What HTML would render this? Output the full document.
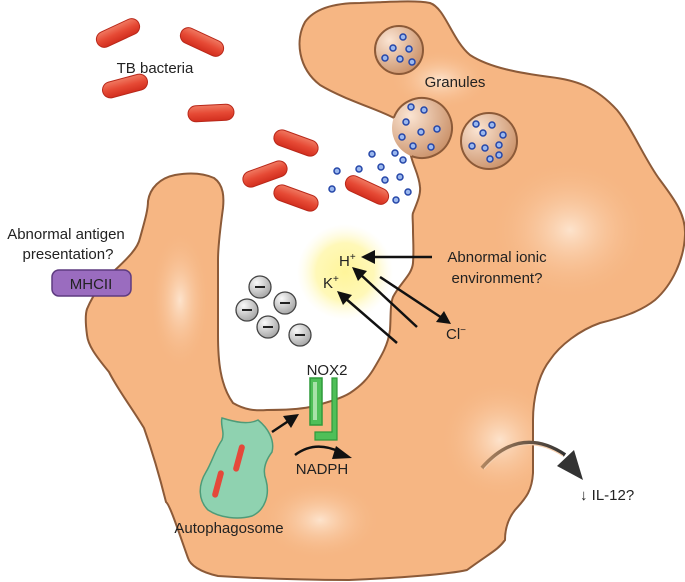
<!DOCTYPE html>
<html><head><meta charset="utf-8"><style>
body{margin:0;background:#fff;}
svg{display:block;font-family:"Liberation Sans",Arial,sans-serif;}
</style></head><body>
<svg width="685" height="582" viewBox="0 0 685 582" xmlns="http://www.w3.org/2000/svg">
<defs>
<radialGradient id="hl" cx="0.5" cy="0.5" r="0.5"><stop offset="0" stop-color="#fde3cc"/><stop offset="1" stop-color="#f6b683" stop-opacity="0"/></radialGradient>
<radialGradient id="glow" cx="0.5" cy="0.5" r="0.5"><stop offset="0" stop-color="#fff59a"/><stop offset="0.6" stop-color="#fff8b8"/><stop offset="1" stop-color="#fffbe0" stop-opacity="0"/></radialGradient>
<radialGradient id="gran" cx="0.3" cy="0.3" r="0.8"><stop offset="0" stop-color="#fbe4d2"/><stop offset="1" stop-color="#c98f66"/></radialGradient>
<radialGradient id="ion" cx="0.35" cy="0.3" r="0.7"><stop offset="0" stop-color="#fafafa"/><stop offset="1" stop-color="#a9a9a9"/></radialGradient>
<linearGradient id="bac" x1="0" y1="0" x2="0" y2="1"><stop offset="0" stop-color="#f07a62"/><stop offset="0.5" stop-color="#e64a35"/><stop offset="1" stop-color="#d22e1e"/></linearGradient>
<linearGradient id="il" x1="0" y1="0" x2="1" y2="0"><stop offset="0" stop-color="#b08560"/><stop offset="1" stop-color="#333"/></linearGradient>
<clipPath id="cc"><path id="cellp" d="M394,118 C380,110 345,100 320,85 C298,68 295,40 305,22 C315,8 335,3 360,3 C390,2 415,0 430,3 C445,8 452,40 470,55 C490,68 520,73 550,77 C575,80 595,86 617,110 C632,128 645,160 660,180 C675,200 686,215 685,235 C684,260 672,285 655,300 C640,312 620,318 600,323 C580,330 560,345 550,360 C538,375 533,400 533,420 C533,440 533,460 533,473 C532,490 527,497 515,510 C507,520 505,530 505,540 C498,550 490,553 467,570 C450,574 400,578 349,580 C300,580 250,578 218,576 C200,572 190,565 188,558 C178,530 170,505 166,502 C158,470 150,445 144,428 C130,405 118,390 109,372 C95,355 88,345 87,335 C85,320 86,312 87,309 C95,290 105,280 114,271 C128,258 138,248 140,238 C145,220 148,210 148,201 C150,188 160,178 175,175 C192,172 205,174 214,178 C224,185 224,198 223,208 C220,230 218,250 218,260 C218,290 218,320 218,335 C218,360 220,385 233,403 C245,410 255,411 267,410 C285,410 300,409 310,407 C330,402 342,398 350,393 C362,385 368,378 373,370 C382,355 388,345 390,330 C391,315 390,305 393,297 C400,283 412,275 413,263 C414,250 413,240 413,230 C413,220 412,215 413,213 C416,205 421,195 420,187 C419,175 414,168 411,156 L394,118 Z"/></clipPath>
</defs>

<use href="#cellp" fill="#f6b683"/>
<g clip-path="url(#cc)">
<ellipse cx="570" cy="230" rx="80" ry="70" fill="url(#hl)"/>
<ellipse cx="500" cy="440" rx="60" ry="60" fill="url(#hl)"/>
<ellipse cx="180" cy="300" rx="30" ry="70" fill="url(#hl)"/>
<ellipse cx="320" cy="520" rx="60" ry="40" fill="url(#hl)"/>
<ellipse cx="440" cy="80" rx="50" ry="30" fill="url(#hl)"/>
</g>
<use href="#cellp" fill="none" stroke="#8c5a38" stroke-width="2"/>

<circle cx="345" cy="272" r="48" fill="url(#glow)"/>

<!-- granules -->
<circle cx="399" cy="50" r="24" fill="url(#gran)" stroke="#8c5a38" stroke-width="2"/>
<circle cx="422" cy="128" r="30" fill="url(#gran)"/>
<path d="M393.8,117.7 A30,30 0 1 1 411.7,156.2" fill="none" stroke="#8c5a38" stroke-width="2"/>
<circle cx="489" cy="141" r="28" fill="url(#gran)" stroke="#8c5a38" stroke-width="2"/>

<g fill="#9bb8ee" stroke="#2546a8" stroke-width="1.5">
<circle cx="403" cy="37" r="3"/><circle cx="393" cy="48" r="3"/><circle cx="409" cy="49" r="3"/><circle cx="385" cy="58" r="3"/><circle cx="400" cy="59" r="3"/><circle cx="412" cy="62" r="3"/>
<circle cx="411" cy="107" r="3"/><circle cx="424" cy="110" r="3"/><circle cx="406" cy="122" r="3"/><circle cx="421" cy="132" r="3"/><circle cx="437" cy="129" r="3"/><circle cx="402" cy="137" r="3"/><circle cx="413" cy="146" r="3"/><circle cx="431" cy="147" r="3"/>
<circle cx="372" cy="154" r="3"/><circle cx="395" cy="153" r="3"/><circle cx="403" cy="160" r="3"/><circle cx="337" cy="171" r="3"/><circle cx="359" cy="169" r="3"/><circle cx="381" cy="167" r="3"/><circle cx="385" cy="180" r="3"/><circle cx="400" cy="177" r="3"/><circle cx="332" cy="189" r="3"/><circle cx="408" cy="192" r="3"/><circle cx="396" cy="200" r="3"/>
<circle cx="476" cy="124" r="3"/><circle cx="492" cy="125" r="3"/><circle cx="483" cy="133" r="3"/><circle cx="503" cy="135" r="3"/><circle cx="472" cy="146" r="3"/><circle cx="485" cy="148" r="3"/><circle cx="499" cy="145" r="3"/><circle cx="499" cy="155" r="3"/><circle cx="490" cy="159" r="3"/>
</g>

<!-- bacteria -->
<g fill="url(#bac)" stroke="#b8281a" stroke-width="1">
<rect x="-23" y="-8" width="46" height="16" rx="8" transform="translate(118,33) rotate(-25)"/>
<rect x="-23" y="-8" width="46" height="16" rx="8" transform="translate(202,42) rotate(25)"/>
<rect x="-23" y="-8" width="46" height="16" rx="8" transform="translate(125,86) rotate(-15)"/>
<rect x="-23" y="-8" width="46" height="16" rx="8" transform="translate(211,113) rotate(-3)"/>
<rect x="-23" y="-8" width="46" height="16" rx="8" transform="translate(296,143) rotate(20)"/>
<rect x="-23" y="-8" width="46" height="16" rx="8" transform="translate(265,174) rotate(-20)"/>
<rect x="-23" y="-8" width="46" height="16" rx="8" transform="translate(296,198) rotate(20)"/>
<rect x="-23" y="-8" width="46" height="16" rx="8" transform="translate(367,190) rotate(25)"/>
</g>

<!-- ions -->
<g fill="url(#ion)" stroke="#444" stroke-width="1.3">
<circle cx="260" cy="287" r="11"/><circle cx="247" cy="310" r="11"/><circle cx="285" cy="303" r="11"/><circle cx="268" cy="327" r="11"/><circle cx="300" cy="335" r="11"/>
</g>
<g stroke="#222" stroke-width="2">
<line x1="255" y1="287" x2="265" y2="287"/><line x1="242" y1="310" x2="252" y2="310"/><line x1="280" y1="303" x2="290" y2="303"/><line x1="263" y1="327" x2="273" y2="327"/><line x1="295" y1="335" x2="305" y2="335"/>
</g>

<g stroke="#111" stroke-width="2.5" fill="none">
<line x1="432" y1="257" x2="372" y2="257"/>
<line x1="417" y1="327" x2="360" y2="274"/>
<line x1="397" y1="343" x2="345" y2="298"/>
<line x1="380" y1="277" x2="442" y2="318"/>
</g>
<g fill="#111">
<polygon points="361,257 375,250 375,264"/>
<polygon points="352,267 367,271 358,281"/>
<polygon points="337,291 352,295 343,305"/>
<polygon points="451,324 436,322 444,311"/>
</g>

<g font-size="15" fill="#222">
<text x="339" y="266">H<tspan font-size="10" dy="-6">+</tspan></text>
<text x="323" y="288">K<tspan font-size="10" dy="-6">+</tspan></text>
<text x="446" y="339">Cl<tspan font-size="10" dy="-6">−</tspan></text>
<text x="497" y="262" text-anchor="middle">Abnormal ionic</text>
<text x="497" y="283" text-anchor="middle">environment?</text>
<text x="155" y="73" text-anchor="middle">TB bacteria</text>
<text x="455" y="87" text-anchor="middle">Granules</text>
<text x="66" y="239" text-anchor="middle">Abnormal antigen</text>
<text x="68" y="259" text-anchor="middle">presentation?</text>
<text x="327" y="375" text-anchor="middle">NOX2</text>
<text x="322" y="474" text-anchor="middle">NADPH</text>
<text x="229" y="533" text-anchor="middle">Autophagosome</text>
<text x="580" y="500">↓ IL-12?</text>
</g>

<rect x="52" y="270" width="79" height="26" rx="7" fill="#9a6cbf" stroke="#5e3b80" stroke-width="1.5"/>
<text x="91" y="289" text-anchor="middle" font-size="15" fill="#222">MHCII</text>

<rect x="310" y="378" width="12" height="47" fill="#4fbf58" stroke="#2f9a3a" stroke-width="1.5"/>
<rect x="313" y="382" width="4" height="38" fill="#a7e2a8"/>
<path d="M332,378 L337,378 L337,440 L315,440 L315,432 L332,432 Z" fill="#4fbf58" stroke="#2f9a3a" stroke-width="1.2"/>

<path d="M222,418 C235,422 248,425 258,420 C268,428 275,440 272,452 C266,460 262,470 266,480 C270,495 265,510 252,516 C238,520 220,518 208,510 C198,500 198,485 206,472 C212,462 215,450 222,440 C225,432 220,425 222,418 Z" fill="#8fd2b0" stroke="#4e9b78" stroke-width="1.5"/>
<rect x="-3" y="-14" width="6" height="28" rx="3" fill="#e5483a" transform="translate(239,458) rotate(15)"/>
<rect x="-3" y="-14" width="6" height="28" rx="3" fill="#e5483a" transform="translate(218,484) rotate(15)"/>

<line x1="272" y1="432" x2="290" y2="420" stroke="#111" stroke-width="2.5"/>
<polygon points="299,414 283,416 291,428" fill="#111"/>

<path d="M295,455 Q315,440 340,452" stroke="#111" stroke-width="2.5" fill="none"/>
<polygon points="352,458 336,446 332,459" fill="#111"/>

<path d="M482,468 Q520,425 565,455" stroke="url(#il)" stroke-width="4" fill="none"/>
<path d="M484,469 Q520,428 563,456" stroke="#f6d0b0" stroke-width="1.2" fill="none"/>
<polygon points="583,480 557,466 574,450" fill="#333"/>
</svg>
</body></html>
